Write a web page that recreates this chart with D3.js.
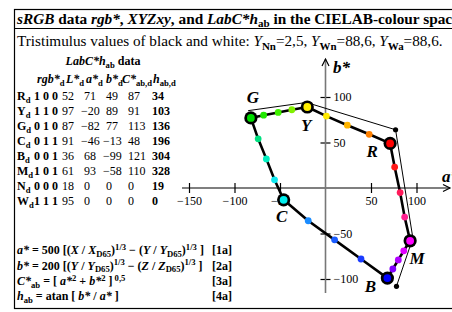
<!DOCTYPE html>
<html>
<head>
<meta charset="utf-8">
<script src="https://cdn.jsdelivr.net/npm/d3@7"></script>
<style>
body { margin: 0; background: #fff; }
svg { display: block; font-family: "Liberation Serif", "Times New Roman", serif; }
</style>
</head>
<body>
<svg class="chart"></svg>
<script>
// corner colours R Y G C B M (device data)
const cornerNames = ["R", "Y", "G", "C", "B", "M"]
const cornerA = [71, -20, -82, -46, 68, 93]
const cornerB = [49, 89, 77, -13, -99, -58]
const cornerFill = ["#ff0000", "#ffee00", "#00dd00", "#00eeee", "#0000ff", "#ff00ff"]

// three steps on every edge, loop order R > Y > G > C > B > M > R
const stepA = [48, 24, 1, -37, -52, -68, -74, -65, -56, -19, 10, 39, 74, 80, 86, 87, 82, 76]
const stepB = [59, 69, 79, 86, 83, 80, 54, 32, 9, -36, -57, -78, -89, -79, -69, -32, -5, 23]
const stepFill = ["#ff8000", "#ffb400", "#ffea00",
                  "#80f000", "#40f000", "#20e800",
                  "#00e080", "#00f0c0", "#10e8f0",
                  "#1a8cff", "#1a5cff", "#1a3cff",
                  "#8000ff", "#b000ff", "#e000ff",
                  "#ff2090", "#ff1a5a", "#ff1a1a"]

// thin outline (second data set)
const refA = [-85, -21, 77, 96, 78]
const refB = [85, 94, 64, -55, -108]
const refDots = [2, 4]

// table
const rowNames = ["R", "Y", "G", "C", "B", "M", "N", "W"]
const rowRgb = ["1 0 0", "1 1 0", "0 1 0", "0 1 1", "0 0 1", "1 0 1", "0 0 0", "1 1 1"]
const colL = [52, 97, 87, 91, 36, 61, 18, 95]
const colA = [71, -20, -82, -46, 68, 93, 0, 0]
const colB = [49, 89, 77, -13, -99, -58, 0, 0]
const colC = [87, 91, 113, 48, 121, 110, 0, 0]
const colH = [34, 103, 136, 196, 304, 328, 19, 0]

const aTicks = [-150, -100, -50, 50, 100]
const bTicks = [-100, -50, 50, 100]

const width = 452, height = 312

var chart = d3.select(".chart")
    .attr("width", width)
    .attr("height", height)

var x = d3.scaleLinear().domain([-150, 100]).range([189, 416.5])
var y = d3.scaleLinear().domain([-100, 100]).range([279, 97])

const minus = (v) => (v < 0 ? "\u2212" + Math.abs(v) : "" + v)

// rich text: segments [text, flags] flags: b bold, i italic, sub, sup
function rich (g, px, py, size, segs, anchor) {
  var t = g.append("text")
      .attr("x", px)
      .attr("y", py)
      .style("font-size", size + "px")
      .attr("text-anchor", anchor || "start")
  var cur = 0
  segs.forEach((s) => {
    var f = s[1] || ""
    var off = 0, fs = size
    if (f.includes("sub")) { off = size * 0.24; fs = size * 0.72 }
    if (f.includes("sup")) { off = -size * 0.36; fs = size * 0.72 }
    t.append("tspan")
        .attr("dy", off - cur)
        .style("font-size", fs + "px")
        .style("font-weight", f.includes("b") ? "bold" : "normal")
        .style("font-style", f.includes("i") ? "italic" : "normal")
        .text(s[0])
    cur = off
  })
  return t
}

// frame
chart.append("rect")
    .attr("x", 14.5).attr("y", 9.5)
    .attr("width", 460).attr("height", 299)
    .attr("fill", "none").attr("stroke", "#000").attr("stroke-width", 1.2)
chart.append("line")
    .attr("x1", 14.5).attr("x2", 460)
    .attr("y1", 28.5).attr("y2", 28.5)
    .attr("stroke", "#000").attr("stroke-width", 1.2)

rich(chart, 17, 23.5, 15.3, [
  ["sRGB", "bi"], [" data ", "b"], ["rgb*", "bi"], [", ", "b"], ["XYZxy", "bi"],
  [", and ", "b"], ["LabC*h", "bi"], ["ab", "b sub"], [" in the CIELAB-colour space", "b"]
])

rich(chart, 17, 46, 15.2, [
  ["Tristimulus values of black and white: "], ["Y", "i"], ["Nn", "sub"], ["=2,5, "],
  ["Y", "i"], ["Wn", "sub"], ["=88,6, "], ["Y", "i"], ["Wa", "sub"], ["=88,6."]
])

// table
var table = chart.append("g").attr("class", "table")
rich(table, 103, 65, 12, [["LabC*h", "bi"], ["ab", "b sub"], [" data", "b"]], "middle")

const head = [
  [37, [["rgb*", "bi"], ["d", "b sub"]]],
  [66, [["L*", "bi"], ["d", "b sub"]]],
  [86, [["a*", "bi"], ["d", "b sub"]]],
  [106, [["b*", "bi"], ["d", "b sub"]]],
  [122, [["C*", "bi"], ["ab,d", "b sub"]]],
  [153, [["h", "bi"], ["ab,d", "b sub"]]]
]
head.forEach((hd) => rich(table, hd[0], 83, 12, hd[1]))

const pad = (v) => (v < 0 ? 0 : 3)
rowNames.forEach((n, i) => {
  var ry = 100 + i * 15
  rich(table, 17, ry, 12, [[n, "b"], ["d", "b sub"]])
  rich(table, 34, ry, 12, [[rowRgb[i], "b"]])
  rich(table, 62, ry, 12, [[minus(colL[i])]])
  rich(table, 81 + pad(colA[i]), ry, 12, [[minus(colA[i])]])
  rich(table, 103 + pad(colB[i]), ry, 12, [[minus(colB[i])]])
  rich(table, 128, ry, 12, [[minus(colC[i])]])
  rich(table, 152, ry, 12, [[minus(colH[i]), "b"]])
})

// formulas
var form = chart.append("g").attr("class", "formulas")
const fy = [254, 269.5, 285, 300]
rich(form, 17, fy[0], 12, [["a*", "bi"], [" = 500 [(", "b"], ["X", "bi"], [" / ", "b"], ["X", "bi"], ["D65", "b sub"],
  [")", "b"], ["1/3", "b sup"], [" \u2212 (", "b"], ["Y", "bi"], [" / ", "b"], ["Y", "bi"], ["D65", "b sub"], [")", "b"], ["1/3", "b sup"], [" ]", "b"]])
rich(form, 17, fy[1], 12, [["b*", "bi"], [" = 200 [(", "b"], ["Y", "bi"], [" / ", "b"], ["Y", "bi"], ["D65", "b sub"],
  [")", "b"], ["1/3", "b sup"], [" \u2212 (", "b"], ["Z", "bi"], [" / ", "b"], ["Z", "bi"], ["D65", "b sub"], [")", "b"], ["1/3", "b sup"], [" ]", "b"]])
rich(form, 17, fy[2], 12, [["C*", "bi"], ["ab", "b sub"], [" = [ ", "b"], ["a*", "bi"], ["2", "b sup"], [" + ", "b"],
  ["b*", "bi"], ["2", "b sup"], [" ]", "b"], [" 0,5", "b sup"]])
rich(form, 17, fy[3], 12, [["h", "bi"], ["ab", "b sub"], [" = atan [ ", "b"], ["b*", "bi"], [" / ", "b"], ["a*", "bi"], [" ]", "b"]])
;["[1a]", "[2a]", "[3a]", "[4a]"].forEach((s, i) => rich(form, 212, fy[i], 12, [[s, "b"]]))

// axes
var axA = chart.append("g")
    .attr("transform", "translate(0," + y(0) + ")")
    .call(d3.axisBottom(x).tickValues(aTicks).tickFormat(minus).tickSize(5).tickPadding(5))
axA.select(".domain").remove()
axA.selectAll(".tick line").attr("y1", -5).attr("y2", 5).attr("stroke-width", 1.2)
axA.selectAll(".tick text")
    .style("font-family", "'Liberation Serif', serif").style("font-size", "12px")
    .attr("y", 8)

var axB = chart.append("g")
    .attr("transform", "translate(" + x(0) + ",0)")
    .call(d3.axisRight(y).tickValues(bTicks).tickFormat(minus).tickSize(5).tickPadding(3))
axB.select(".domain").remove()
axB.selectAll(".tick line").attr("x1", -5).attr("x2", 5).attr("stroke-width", 1.2)
axB.selectAll(".tick text")
    .style("font-family", "'Liberation Serif', serif").style("font-size", "12px")
    .attr("x", 8)

chart.append("line")
    .attr("x1", 182).attr("x2", 450)
    .attr("y1", y(0)).attr("y2", y(0))
    .attr("stroke", "#000").attr("stroke-width", 1.1)
chart.append("path")
    .attr("d", "M443,184.5 L450," + y(0) + " L443,191.5")
    .attr("fill", "none").attr("stroke", "#000").attr("stroke-width", 1.2)
chart.append("line")
    .attr("x1", x(0)).attr("x2", x(0))
    .attr("y1", 293).attr("y2", 59)
    .attr("stroke", "#777").attr("stroke-width", 1.6)
chart.append("path")
    .attr("d", "M" + (x(0) - 3.5) + ",66 L" + x(0) + ",59 L" + (x(0) + 3.5) + ",66")
    .attr("fill", "none").attr("stroke", "#000").attr("stroke-width", 1.2)

rich(chart, 333, 73, 17, [["b*", "bi"]])
rich(chart, 442, 182, 17, [["a*", "bi"]])

// thin outline
var line = d3.line().x((d) => x(d[0])).y((d) => y(d[1]))
var refPts = refA.map((a, i) => [a, refB[i]])
chart.append("path")
    .attr("d", line(refPts))
    .attr("fill", "none").attr("stroke", "#000").attr("stroke-width", 1)
chart.selectAll(".refDot")
    .data(refDots)
    .enter()
    .append("circle")
      .attr("class", "refDot")
      .attr("cx", (i) => x(refA[i]))
      .attr("cy", (i) => y(refB[i]))
      .attr("r", 2.6)

// thick loop through corners and steps
var loop = []
cornerA.forEach((a, c) => {
  loop.push([a, cornerB[c]])
  for (var k = 0; k < 3; k++) loop.push([stepA[c * 3 + k], stepB[c * 3 + k]])
})
chart.append("path")
    .attr("d", line(loop) + "Z")
    .attr("fill", "none").attr("stroke", "#000").attr("stroke-width", 2.6)
    .attr("stroke-linejoin", "round")

chart.selectAll(".step")
    .data(stepA)
    .enter()
    .append("circle")
      .attr("class", "step")
      .attr("cx", (d) => x(d))
      .attr("cy", (d, i) => y(stepB[i]))
      .attr("r", 3.4)
      .attr("fill", (d, i) => stepFill[i])

var corners = chart.selectAll(".corner")
    .data(cornerNames)
    .enter()
    .append("g")
      .attr("class", "corner")
      .attr("transform", (d, i) => "translate(" + x(cornerA[i]) + "," + y(cornerB[i]) + ")")
corners.append("circle").attr("r", 6.6).attr("fill", "#000")
corners.append("circle").attr("r", 3.9).attr("fill", (d, i) => cornerFill[i])

const labelOff = [[-18, 8], [-1, 18], [2, -21], [-2, 16], [-17, 8], [7, 17]]
corners.append("text")
    .attr("x", (d, i) => labelOff[i][0])
    .attr("y", (d, i) => labelOff[i][1])
    .attr("dy", "0.35em")
    .attr("text-anchor", "middle")
    .style("font-size", "17px")
    .style("font-weight", "bold")
    .style("font-style", "italic")
    .text((d) => d)
</script>
</body>
</html>
